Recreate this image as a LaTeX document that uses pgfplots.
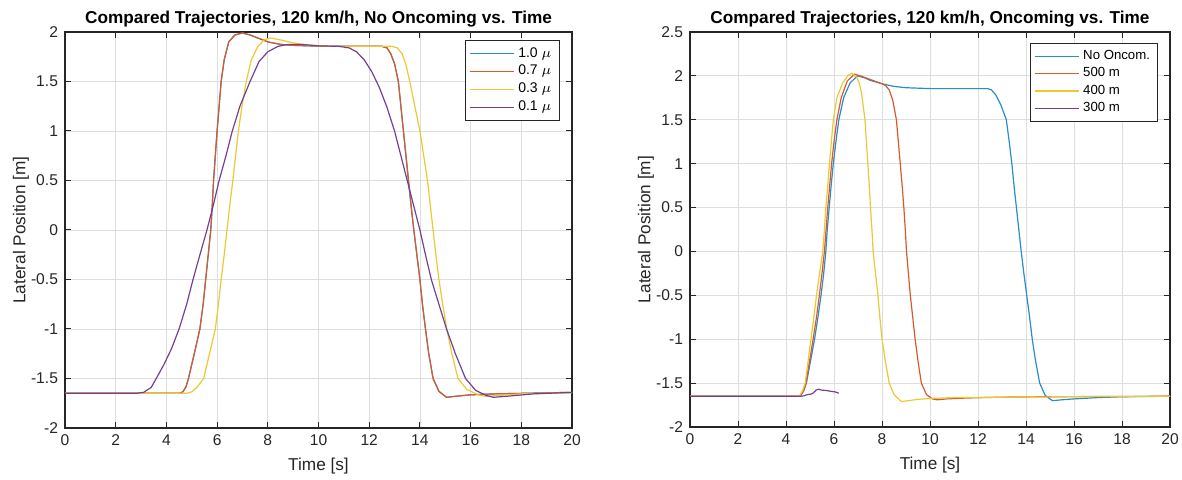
\documentclass[border=0pt]{standalone}
\usepackage{pgfplots}
\pgfplotsset{compat=1.18}
\usepackage{fontspec}
\setmainfont{Liberation Sans}

\definecolor{mblue}{RGB}{40,140,205}
\definecolor{mred}{RGB}{215,90,45}
\definecolor{myellow}{RGB}{238,200,50}
\definecolor{mpurple}{RGB}{115,65,145}
\definecolor{maxis}{RGB}{38,38,38}

\pgfplotsset{
  mlab/.style={
    scale only axis,
    xmin=0, xmax=20, xtick={0,2,...,20},
    grid=major,
    major grid style={draw=black!13, line width=0.4pt},
    axis line style={draw=maxis, line width=0.55pt},
    tick style={draw=maxis, line width=0.5pt},
    tick align=inside, xtick pos=both, ytick pos=both,
    major tick length=3pt,
    /pgf/number format/assume math mode=true,
    tick label style={font=\fontsize{7.8}{9}\selectfont, text=maxis},
    label style={font=\fontsize{8.6}{10}\selectfont, text=maxis},
    title style={font=\bfseries\fontsize{8.6}{10}\selectfont, at={(axis description cs:0.5,1)}, anchor=base, yshift=-2pt},
    xlabel style={at={(axis description cs:0.5,0)}, anchor=base, yshift=-21.5pt},
    legend cell align=left,
    legend image code/.code={\draw[#1] (0pt,0pt) -- (22pt,0pt);},
    legend style={draw=maxis, line width=0.5pt, fill=white,
      font=\fontsize{7}{8}\selectfont, anchor=north east,
      inner xsep=2pt, inner ysep=1.5pt, row sep=-1.5pt},
    every axis plot/.append style={line width=0.6pt, no marks},
  }
}

\begin{document}
\begin{tikzpicture}
\useasboundingbox (0,0) rectangle (591pt,240pt);

% left: no oncoming traffic, friction compared
\begin{axis}[mlab,
  at={(32.5pt,26pt)}, anchor=south west,
  width=253.5pt, height=198pt,
  ymin=-2, ymax=2, ytick={-2,-1.5,...,2},
  title={Compared Trajectories, 120 km/h, No Oncoming vs. Time},
  xlabel={Time [s]}, ylabel={Lateral Position [m]},
  ylabel style={at={(axis description cs:-0.087,0.5)}, anchor=center},
  legend style={at={(0.976,0.98)}},
]
\addplot[mblue] coordinates {(0,-1.65)(4.5,-1.65)(4.65,-1.635)(4.78,-1.58)(4.87,-1.5)(5.1,-1.25)(5.32,-1.0)(5.45,-0.75)(5.55,-0.5)(5.65,-0.25)(5.75,0)(5.81,0.25)(5.86,0.5)(5.93,0.75)(6.0,1.0)(6.08,1.25)(6.16,1.5)(6.28,1.72)(6.46,1.9)(6.7,1.97)(7.0,1.99)(7.3,1.97)(7.6,1.94)(8.0,1.9)(8.5,1.875)(9.0,1.865)(10,1.857)(11,1.855)(12.5,1.855)(12.7,1.84)(12.85,1.78)(13.0,1.68)(13.15,1.5)(13.25,1.25)(13.35,1.0)(13.45,0.75)(13.55,0.5)(13.65,0.25)(13.76,0)(13.88,-0.25)(14.0,-0.5)(14.1,-0.75)(14.22,-1.0)(14.35,-1.25)(14.52,-1.5)(14.75,-1.63)(15.05,-1.69)(15.4,-1.68)(16.0,-1.665)(17,-1.655)(18,-1.65)(20,-1.64)};
\addplot[mred] coordinates {(0,-1.65)(4.5,-1.65)(4.65,-1.635)(4.78,-1.58)(4.87,-1.5)(5.1,-1.25)(5.32,-1.0)(5.45,-0.75)(5.55,-0.5)(5.65,-0.25)(5.75,0)(5.81,0.25)(5.86,0.5)(5.93,0.75)(6.0,1.0)(6.08,1.25)(6.16,1.5)(6.28,1.72)(6.46,1.9)(6.7,1.97)(7.0,1.99)(7.3,1.97)(7.6,1.94)(8.0,1.9)(8.5,1.875)(9.0,1.865)(10,1.857)(11,1.855)(12.5,1.855)(12.7,1.84)(12.85,1.78)(13.0,1.68)(13.15,1.5)(13.25,1.25)(13.35,1.0)(13.45,0.75)(13.55,0.5)(13.65,0.25)(13.76,0)(13.88,-0.25)(14.0,-0.5)(14.1,-0.75)(14.22,-1.0)(14.35,-1.25)(14.52,-1.5)(14.75,-1.63)(15.05,-1.69)(15.4,-1.68)(16.0,-1.665)(17,-1.655)(18,-1.65)(20,-1.64)};
\addplot[myellow] coordinates {(0,-1.65)(4.8,-1.65)(5.0,-1.635)(5.2,-1.59)(5.35,-1.54)(5.47,-1.5)(5.7,-1.25)(5.93,-1.0)(6.05,-0.75)(6.16,-0.5)(6.28,-0.25)(6.39,0)(6.5,0.25)(6.62,0.5)(6.73,0.75)(6.84,1.0)(6.98,1.25)(7.15,1.5)(7.35,1.72)(7.6,1.85)(7.85,1.92)(8.1,1.94)(8.5,1.92)(9.0,1.89)(9.5,1.87)(10,1.86)(11,1.855)(12.9,1.855)(13.1,1.84)(13.3,1.78)(13.45,1.67)(13.6,1.5)(13.8,1.25)(14.0,1.0)(14.15,0.75)(14.3,0.5)(14.41,0.25)(14.52,0)(14.63,-0.25)(14.75,-0.5)(14.9,-0.75)(15.06,-1.0)(15.26,-1.25)(15.5,-1.5)(15.85,-1.61)(16.3,-1.665)(16.6,-1.68)(17.2,-1.67)(18,-1.655)(20,-1.645)};
\addplot[mpurple] coordinates {(0,-1.65)(2.8,-1.65)(3.1,-1.64)(3.4,-1.59)(3.6,-1.5)(3.9,-1.36)(4.2,-1.2)(4.5,-1.0)(4.8,-0.75)(5.05,-0.5)(5.3,-0.27)(5.6,0)(5.85,0.25)(6.08,0.5)(6.35,0.75)(6.6,1.0)(6.9,1.25)(7.3,1.5)(7.65,1.7)(8.0,1.8)(8.4,1.855)(8.8,1.875)(9.3,1.875)(10,1.86)(10.8,1.855)(11.2,1.84)(11.5,1.8)(11.8,1.72)(12.1,1.6)(12.4,1.44)(12.7,1.24)(13.0,1.0)(13.25,0.75)(13.5,0.5)(13.75,0.25)(14.0,0)(14.22,-0.25)(14.45,-0.5)(14.75,-0.75)(15.05,-1.0)(15.4,-1.25)(15.8,-1.5)(16.2,-1.62)(16.6,-1.67)(16.9,-1.69)(17.4,-1.68)(18.5,-1.655)(20,-1.64)};
\legend{1.0 $\mu$, 0.7 $\mu$, 0.3 $\mu$, 0.1 $\mu$}
\end{axis}

% right: oncoming traffic at several distances
\begin{axis}[mlab,
  at={(345pt,26.5pt)}, anchor=south west,
  width=240pt, height=197.5pt,
  ymin=-2, ymax=2.5, ytick={-2,-1.5,...,2.5},
  title={Compared Trajectories, 120 km/h, Oncoming vs. Time},
  xlabel={Time [s]}, ylabel={Lateral Position [m]},
  ylabel style={at={(axis description cs:-0.092,0.5)}, anchor=center},
  legend style={at={(0.976,0.972)}, font=\fontsize{6.6}{8}\selectfont},
]
\addplot[mblue] coordinates {(0,-1.65)(4.5,-1.65)(4.62,-1.64)(4.75,-1.58)(4.85,-1.5)(5.02,-1.25)(5.19,-1.0)(5.33,-0.75)(5.46,-0.5)(5.57,-0.25)(5.66,0)(5.72,0.25)(5.8,0.5)(5.88,0.75)(5.97,1.0)(6.08,1.25)(6.2,1.5)(6.4,1.75)(6.67,1.92)(6.98,2.0)(7.25,1.98)(7.5,1.95)(8,1.91)(8.5,1.88)(9,1.865)(10,1.855)(12.4,1.855)(12.56,1.84)(12.75,1.78)(12.95,1.67)(13.18,1.5)(13.3,1.25)(13.41,1.0)(13.5,0.75)(13.6,0.5)(13.7,0.25)(13.8,0)(13.91,-0.25)(14.03,-0.5)(14.15,-0.75)(14.26,-1.0)(14.4,-1.25)(14.57,-1.5)(14.8,-1.64)(15.1,-1.7)(15.5,-1.69)(16,-1.68)(17,-1.665)(18,-1.655)(20,-1.65)};
\addplot[mred] coordinates {(0,-1.65)(4.5,-1.65)(4.62,-1.64)(4.74,-1.58)(4.83,-1.5)(4.98,-1.25)(5.13,-1.0)(5.27,-0.75)(5.39,-0.5)(5.5,-0.25)(5.6,0)(5.67,0.25)(5.74,0.5)(5.82,0.75)(5.9,1.0)(6.0,1.25)(6.12,1.5)(6.3,1.75)(6.55,1.94)(6.85,2.02)(7.1,2.0)(7.5,1.96)(8.0,1.91)(8.15,1.89)(8.3,1.84)(8.45,1.72)(8.6,1.5)(8.68,1.25)(8.76,1.0)(8.84,0.75)(8.91,0.5)(8.97,0.25)(9.02,0)(9.1,-0.25)(9.18,-0.5)(9.28,-0.75)(9.38,-1.0)(9.5,-1.25)(9.64,-1.5)(9.85,-1.63)(10.1,-1.68)(10.3,-1.69)(10.7,-1.68)(11.5,-1.67)(13,-1.66)(15,-1.655)(20,-1.65)};
\addplot[myellow] coordinates {(0,-1.65)(4.45,-1.65)(4.58,-1.64)(4.7,-1.58)(4.8,-1.5)(4.92,-1.25)(5.04,-1.0)(5.16,-0.75)(5.27,-0.5)(5.4,-0.25)(5.53,0)(5.6,0.25)(5.66,0.5)(5.74,0.75)(5.81,1.0)(5.89,1.25)(5.97,1.5)(6.12,1.75)(6.36,1.92)(6.6,2.01)(6.75,2.03)(6.95,1.98)(7.05,1.92)(7.15,1.8)(7.22,1.65)(7.29,1.5)(7.35,1.25)(7.41,1.0)(7.47,0.75)(7.52,0.5)(7.58,0.25)(7.63,0)(7.73,-0.25)(7.83,-0.5)(7.91,-0.75)(8.0,-1.0)(8.14,-1.25)(8.3,-1.5)(8.5,-1.63)(8.8,-1.71)(9.1,-1.7)(9.5,-1.685)(10,-1.675)(11,-1.665)(13,-1.66)(16,-1.655)(20,-1.65)};
\addplot[mpurple] coordinates {(0,-1.65)(4.6,-1.65)(4.75,-1.645)(4.9,-1.63)(5.05,-1.625)(5.15,-1.61)(5.25,-1.58)(5.35,-1.57)(5.5,-1.58)(5.7,-1.585)(5.9,-1.595)(6.05,-1.6)(6.2,-1.615)};
\legend{No Oncom., 500 m, 400 m, 300 m}
\end{axis}
\end{tikzpicture}
\end{document}
